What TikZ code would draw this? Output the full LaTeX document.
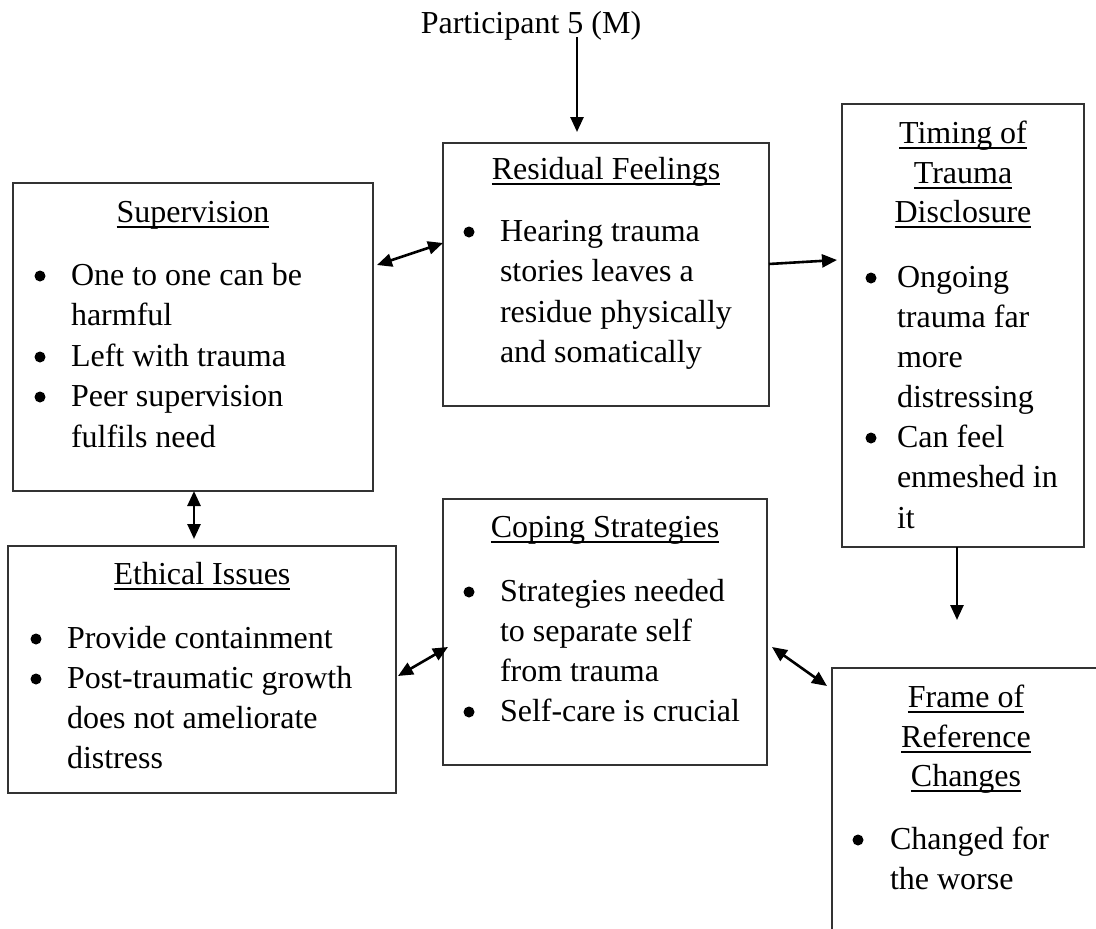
\documentclass[tikz,border=0pt]{standalone}
\usepackage{fontspec}
\setmainfont{Liberation Serif}
\usetikzlibrary{arrows.meta,calc}

% underlined heading line, underline a little below the baseline
\newcommand\hdline[1]{\setbox0=\hbox{#1}\rlap{\rule[-5.5pt]{\wd0}{1.9pt}}\box0}

\begin{document}
\begin{tikzpicture}[x=1pt,y=-1pt,
  every node/.style={font=\fontsize{32}{40}\selectfont, inner sep=0pt, outer sep=0pt},
  box/.style={draw=black!80, line width=1.3pt, anchor=north west},
  hd/.style={anchor=base},
  ln/.style={anchor=base west},
  dot/.style={circle, fill=black, minimum size=11pt},
  tipT/.tip={Triangle[length=15pt,width=13pt]},
  conn/.style={line width=2.6pt, -tipT},
  dconn/.style={line width=2.6pt, tipT-tipT},
]
\useasboundingbox (0,0) rectangle (1096,929);

% ---- boxes ----
\node[box, minimum width=360pt, minimum height=308pt] (sup) at (13,183) {};
\node[box, minimum width=326pt, minimum height=263pt] (res) at (443,143) {};
\node[box, minimum width=242pt, minimum height=443pt] (tim) at (842,104) {};
\node[box, minimum width=388pt, minimum height=247pt] (eth) at (8,546) {};
\node[box, minimum width=324pt, minimum height=266pt] (cop) at (443,499) {};
\begin{scope}
  \clip (0,0) rectangle (1096,929);
  \node[box, minimum width=270pt, minimum height=300pt] (frm) at (832,668) {};
\end{scope}

% ---- title ----
\node[hd] (title) at (531,33) {Participant 5 (M)};

% ---- Supervision ----
\node[hd] (sup-h) at (193,222) {\hdline{Supervision}};
\node[dot] (sup-b1) at (40,276) {};
\node[ln] (sup-t1) at (71,285) {One to one can be};
\node[ln] (sup-t2) at (71,325) {harmful};
\node[dot] (sup-b2) at (40,357) {};
\node[ln] (sup-t3) at (71,366) {Left with trauma};
\node[dot] (sup-b3) at (40,397) {};
\node[ln] (sup-t4) at (71,406) {Peer supervision};
\node[ln] (sup-t5) at (71,447) {fulfils need};

% ---- Residual Feelings ----
\node[hd] (res-h) at (606,179) {\hdline{Residual Feelings}};
\node[dot] (res-b1) at (469,232) {};
\node[ln] (res-t1) at (500,241) {Hearing trauma};
\node[ln] (res-t2) at (500,281) {stories leaves a};
\node[ln] (res-t3) at (500,322) {residue physically};
\node[ln] (res-t4) at (500,362) {and somatically};

% ---- Timing of Trauma Disclosure ----
\node[hd] (tim-h1) at (963,143) {\hdline{Timing of}};
\node[hd] (tim-h2) at (963,183) {\hdline{Trauma}};
\node[hd] (tim-h3) at (963,222) {\hdline{Disclosure}};
\node[dot] (tim-b1) at (871,278) {};
\node[ln] (tim-t1) at (897,287) {Ongoing};
\node[ln] (tim-t2) at (897,327) {trauma far};
\node[ln] (tim-t3) at (897,367) {more};
\node[ln] (tim-t4) at (897,407) {distressing};
\node[dot] (tim-b2) at (871,438) {};
\node[ln] (tim-t5) at (897,447) {Can feel};
\node[ln] (tim-t6) at (897,487) {enmeshed in};
\node[ln] (tim-t7) at (897,528) {it};

% ---- Ethical Issues ----
\node[hd] (eth-h) at (202,584) {\hdline{Ethical Issues}};
\node[dot] (eth-b1) at (36,639) {};
\node[ln] (eth-t1) at (67,648) {Provide containment};
\node[dot] (eth-b2) at (36,679) {};
\node[ln] (eth-t2) at (67,688) {Post-traumatic growth};
\node[ln] (eth-t3) at (67,728) {does not ameliorate};
\node[ln] (eth-t4) at (67,768) {distress};

% ---- Coping Strategies ----
\node[hd] (cop-h) at (605,537) {\hdline{Coping Strategies}};
\node[dot] (cop-b1) at (469,592) {};
\node[ln] (cop-t1) at (500,601) {Strategies needed};
\node[ln] (cop-t2) at (500,641) {to separate self};
\node[ln] (cop-t3) at (500,681) {from trauma};
\node[dot] (cop-b2) at (469,712) {};
\node[ln] (cop-t4) at (500,721) {Self-care is crucial};

% ---- Frame of Reference Changes ----
\node[hd] (frm-h1) at (966,707) {\hdline{Frame of}};
\node[hd] (frm-h2) at (966,747) {\hdline{Reference}};
\node[hd] (frm-h3) at (966,786) {\hdline{Changes}};
\node[dot] (frm-b1) at (858,840) {};
\node[ln] (frm-t1) at (890,849) {Changed for};
\node[ln] (frm-t2) at (890,889) {the worse};

% ---- connectors ----
\draw[conn] ($(title.base)+(46,4)$) -- ($(res.north west)+(134,-11)$);
\draw[dconn] ($(sup.north east)+(4,82)$) -- ($(res.north west)+(0,100)$);
\draw[conn] ($(res.north east)+(0,121)$) -- ($(tim.north west)+(-5,156)$);
\draw[dconn] ($(sup.south west)+(181,0)$) -- ($(eth.north west)+(186,-7)$);
\draw[conn] ($(tim.south west)+(115,0)$) -- ($(frm.north west)+(125,-48)$);
\draw[dconn] ($(eth.north east)+(2,130)$) -- ($(cop.north west)+(5,148)$);
\draw[dconn] ($(cop.north east)+(5,148)$) -- ($(frm.north west)+(-5,18)$);
\end{tikzpicture}
\end{document}
